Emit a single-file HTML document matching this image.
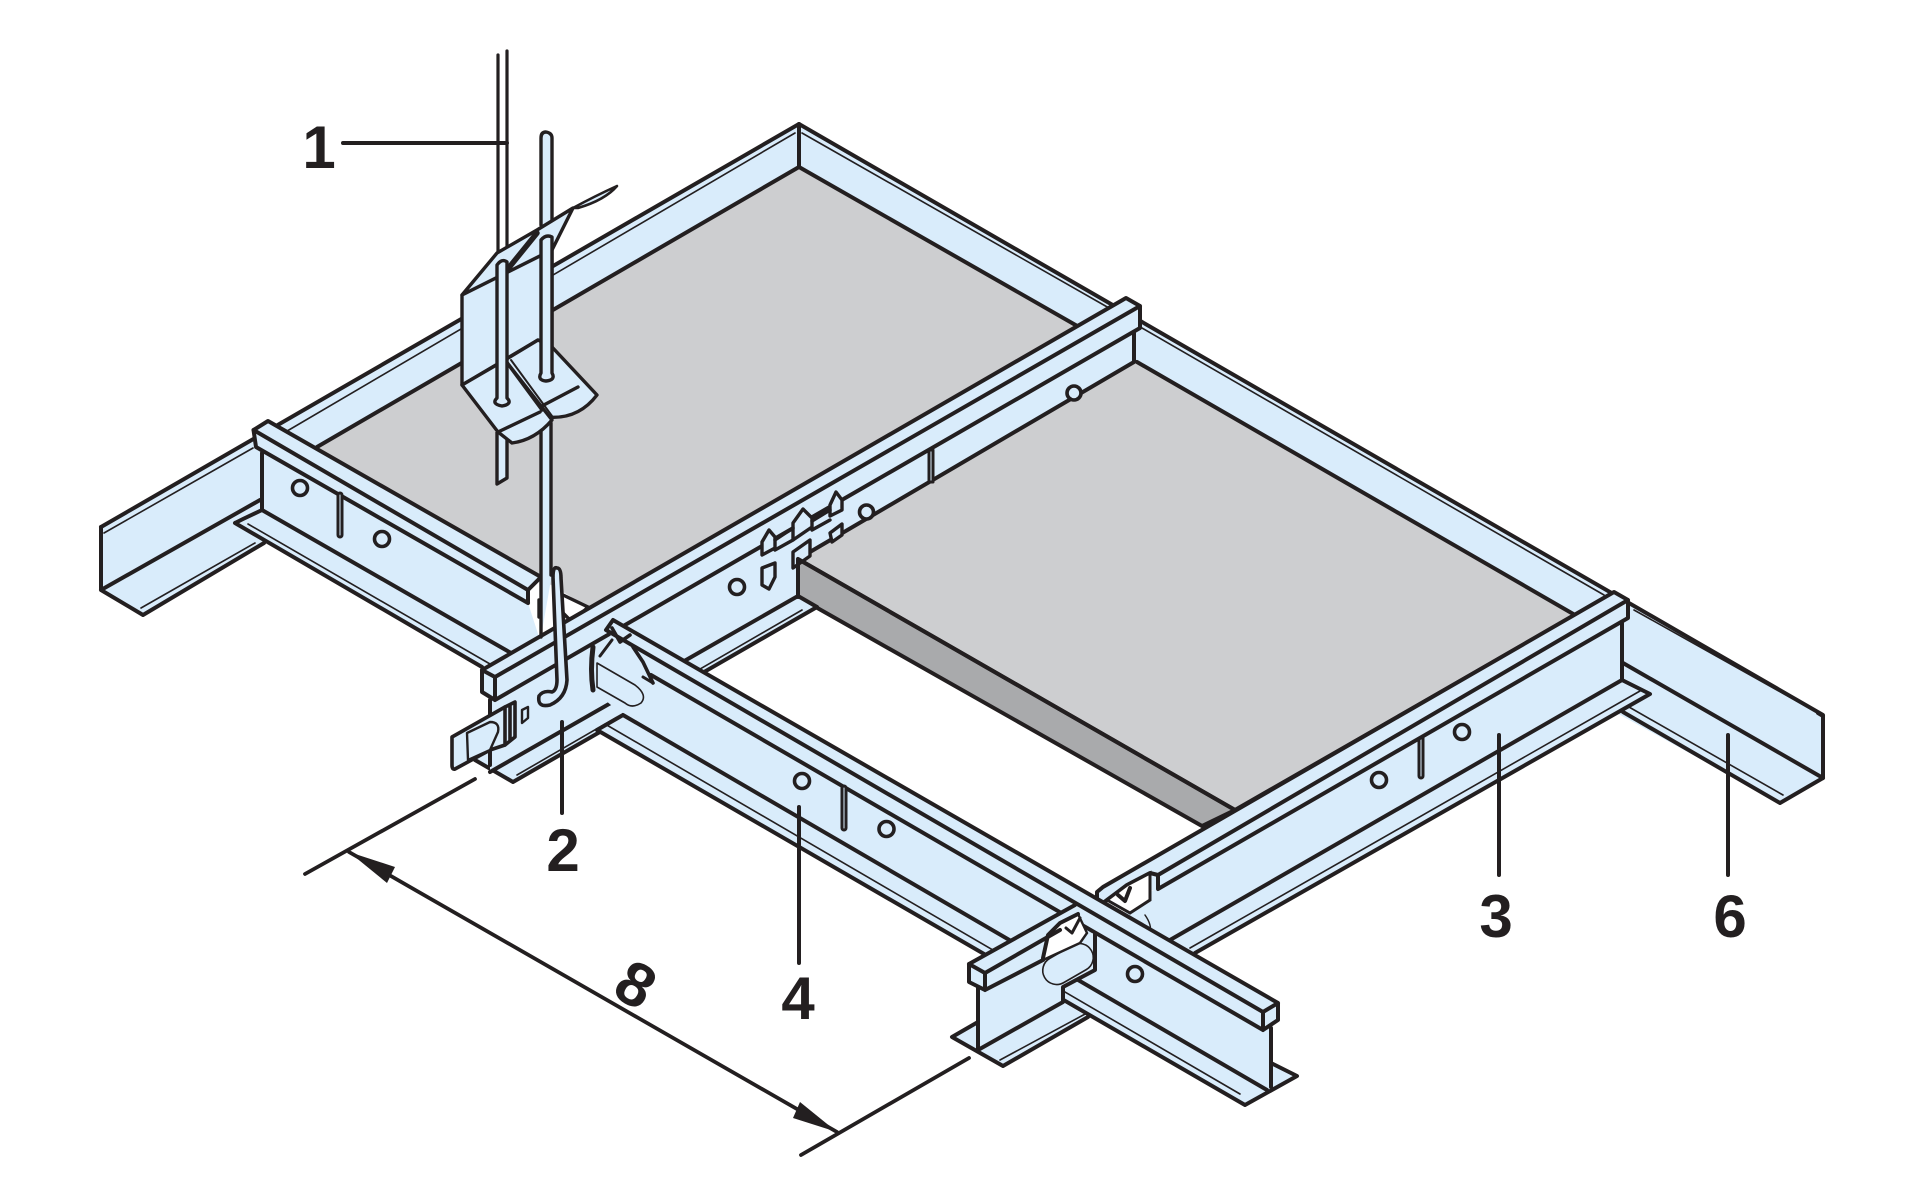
<!DOCTYPE html>
<html><head><meta charset="utf-8"><title>Ceiling grid</title>
<style>
html,body{margin:0;padding:0;background:#fff}
svg{display:block}
.f{fill:#d9ecfb;stroke:none}
.w{fill:#fff;stroke:#231f20}
.b{fill:#d9ecfb;stroke:#231f20;stroke-linejoin:round}
.l{fill:none;stroke:#231f20;stroke-linecap:round;stroke-linejoin:round}
.t{fill:none;stroke:#231f20;stroke-linecap:round}
.n{font-family:"Liberation Sans",sans-serif;font-weight:700;font-size:60px;fill:#231f20;text-anchor:middle}
</style></head><body>
<svg width="1920" height="1204" viewBox="0 0 1920 1204" xmlns="http://www.w3.org/2000/svg">
<rect width="1920" height="1204" fill="#fff"/>

<!-- perimeter -->
<polygon class="f" points="799,124 1823,715 1823,778 1780,803 1575,690 1575,615 799,167 317,447 264,543 143,615 101,590 101,527"/>
<polygon points="799,167 1079,327 590,608 317,447" fill="#cdced0"/>
<polygon points="1137,362 1575,615 1235,810 798,559" fill="#cdced0"/>
<polygon points="798,559 1235,810 1202,826 798,597" fill="#a9aaac"/>
<g stroke-width="4">
<path class="l" d="M101,527 L799,124 L1823,715 V778 L1780,803 L1623,712"/>
<path class="l" d="M799,124 V167 L1079,327 M799,167 L317,447 M1137,362 L1575,615"/>
<path class="l" d="M101,527 V590 L143,615 L264,543 M101,590 L260,500 M1623,663 L1823,778"/>
<path class="l" d="M1818,713 L1823,716 M798,559 L1235,810 L1575,615 M798,559 L798,597 L1202,826 L1235,810"/>
</g>
<path class="t" stroke-width="1.6" d="M104,533 L253,448 M141,608 L255,543 M265,444 L795,133 M802,133 L1109,308 M1142,328 L1604,595 M1634,610 L1818,713 M1629,707 L1783,795"/>

<!-- left tee -->
<polygon class="f" points="235,523 262,510 511,653 482,667"/>
<path class="l" stroke-width="4" d="M235,523 L243,519 L262,510 M235,523 L482,667"/>
<path class="t" stroke-width="1.6" d="M248,524 L490,664"/>
<polygon class="f" points="262,453 528,603 540,640 511,653 262,510"/>
<polygon class="f" points="253.5,430 268,421 541,577 528,590 528,613 256,447"/>
<path class="l" stroke-width="4" d="M253.5,430 L268,421 L541,577 L528,590 M253.5,430 L528,590 V603 M253.5,430 L256,447 L528,603 M262,453 V510 L511,653"/>
<circle class="b" stroke-width="3.6" cx="300" cy="488" r="7.5"/><circle class="b" stroke-width="3.6" cx="382" cy="539" r="7.5"/>
<rect class="b" stroke-width="3" x="338" y="493" width="4" height="44" rx="2"/>
<path class="l" stroke-width="3.4" d="M539,600 V617 M563,595 L588,607 L575,620 M560,610 L572,622"/>

<!-- main tee 3 -->
<polygon class="f" points="1195,953 1170,940 1622,680 1650,694"/>
<path class="l" stroke-width="4" d="M1195,953 L1650,694 L1622,680"/>
<path class="t" stroke-width="1.6" d="M1190,948 L1640,691"/>
<polygon class="f" points="1125,905 1158,888 1622,623 1622,680 1170,940 1125,915"/>
<path class="l" stroke-width="4" d="M1622,623 V680 L1170,940"/>
<circle class="b" stroke-width="3.6" cx="1462" cy="732" r="7.5"/><circle class="b" stroke-width="3.6" cx="1379" cy="780" r="7.5"/>
<rect class="b" stroke-width="3" x="1419" y="734" width="4" height="44" rx="2"/>
<polygon class="f" points="1097,892 1103,887 1614,592 1628,600 1628,618 1158,889 1103,903 1097,900"/>
<path class="l" stroke-width="4" d="M1103,887 L1614,592 L1628,600 V618 L1158,889 V875 L1628,600 M1158,875 L1150,873 L1127,885 L1107,900 L1103,903 L1097,900 V892 L1103,887"/>
<path class="w" style="stroke-width:3" d="M1107,900 L1127,885 L1150,873 L1150,900 L1130,913 Z"/>
<path class="l" stroke-width="4" d="M1118,895 L1125,901 L1130,888"/>
<path class="t" stroke-width="1.5" d="M1145,915 Q1152,925 1150,932"/>

<!-- main tee 2 -->
<polygon class="f" points="475,760 490,750 798,596 817,607 513,782"/>
<path class="l" stroke-width="4" d="M475,760 L513,782 L817,607 M798,596 L817,607"/>
<path class="t" stroke-width="1.6" d="M517,775 L802,610"/>
<polygon class="f" points="495,700 1134,331 1134,362 798,559 798,596 490,772 490,700"/>
<path class="l" stroke-width="4" d="M490,700 V765 M1134,331 V362 L798,559 V596 L490,772"/>
<polygon class="f" points="482,670 1126,298 1140,306 1140,328 495,700 482,692"/>
<path class="l" stroke-width="4" d="M482,670 L1126,298 L1140,306 V328 L495,700 V677 L1140,306 M482,670 L495,677 M482,670 V692 L495,700"/>
<circle class="b" stroke-width="3.6" cx="1074" cy="393" r="7"/><circle class="b" stroke-width="3.6" cx="866.5" cy="512" r="7"/><circle class="b" stroke-width="3.6" cx="737" cy="587" r="7.5"/>
<rect class="b" stroke-width="3" x="929" y="450" width="4" height="32"/>
<g stroke-width="3.4">
<path class="b" d="M762,555 V542 L769,530 L775,537 V548 Z"/>
<path class="b" d="M793,540 V523 L803,509 L812,518 V527 Z"/>
<path class="b" d="M830,516 V505 L836,492 L842,500 V510 Z"/>
<path class="b" d="M762,568 V585 L769,589 L775,577 V563 Z"/>
<path class="b" d="M793,568 V552 L810,540 V556 Z"/>
<path class="b" d="M830,533 L842,524 V535 L832,542 Z"/>
<path class="l" d="M775,540 L793,528 M812,521 L830,510 M775,550 L793,540 M812,530 L830,520"/>
</g>
<path class="l" stroke-width="4" d="M798,559 L1235,810 M798,559 V597"/>

<!-- cross tee 4 -->
<polygon class="f" points="597,730 623,712 1297,1076 1271,1063 1245,1105"/>
<polygon class="f" points="1271,1063 1297,1076 1245,1105 1200,1080"/>
<path class="l" stroke-width="4" d="M597,730 L1245,1105 L1297,1076 L1271,1063 M597,730 L623,715"/>
<path class="t" stroke-width="1.6" d="M605,724 L1240,1094"/>
<polygon class="f" points="593,650 640,668 1263,1030 1271,1028 1271,1087 1267,1090 623,715 593,690"/>
<path class="l" stroke-width="4" d="M623,715 L1267,1090 M1271,1028 V1087"/>
<polygon class="f" points="613,620 1278,1003 1278,1020 1263,1030 640,668 606,630"/>
<path class="l" stroke-width="4" d="M606,630 L613,620 L1278,1003 V1020 L1263,1030 V1012 L606,630 M651,675 L1263,1030 M1263,1012 L1278,1003"/>
<circle class="b" stroke-width="3.6" cx="802" cy="781" r="7.5"/><circle class="b" stroke-width="3.6" cx="886.5" cy="829" r="7.5"/><circle class="b" stroke-width="3.6" cx="1135" cy="974" r="7.5"/>
<rect class="b" stroke-width="3" x="842" y="786" width="4" height="44" rx="2"/>
<path class="b" stroke-width="1.6" d="M597,663 L635,685 Q648,695 641,703 Q632,709 625,703 L597,687 Z"/>
<path class="l" stroke-width="5" d="M593,647 Q590,670 593,690"/>
<path class="l" stroke-width="3.6" d="M612,628 L620,642 L630,635 M633,647 L643,662 L653,683"/>
<path class="l" stroke-width="3" d="M643,677 L653,683 M600,656 L612,640"/>

<!-- near stub -->
<polygon class="f" points="952,1037 978,1022 978,1050 1063,1002 1088,1017 1003,1066"/>
<path class="l" stroke-width="4" d="M978,1022 L952,1037 L1003,1066 L1088,1017"/>
<path class="t" stroke-width="1.6" d="M1000,1060 L1087,1013"/>
<polygon class="f" points="978,985 985,990 1080,935 1095,933 1095,970 1063,987 1063,1002 978,1050"/>
<path class="l" stroke-width="4" d="M978,985 V1050 L1063,1002 V987 L1095,970 V933"/>
<rect class="b" stroke-width="1.6" x="1041" y="950" width="54" height="28" rx="14" transform="rotate(-30 1068 964)"/>
<polygon class="f" points="969,964 1075,905 1082,910 1042,960 985,990 969,982"/>
<path class="w" style="stroke-width:2.4" d="M1043,960 L1048,935 L1060,923 L1078,914 L1087,933 L1080,943 Z"/>
<path class="l" stroke-width="4" d="M969,964 L1075,905 M1043,960 L985,990 V973 L1060,930 M969,964 L985,973 M969,964 V982 L985,990"/>
<path class="l" stroke-width="4" d="M1043,958 L1048,935 L1060,923 L1078,914"/>
<path class="l" stroke-width="3" d="M1066,928 L1072,933 L1080,918"/>

<!-- hanger wires back -->
<path class="l" stroke-width="3.2" d="M498,55 V253 M507,51 V253"/>
<path class="f" d="M541,225 V138 Q541,132 546,132 Q552,133 552,138 V225 Z"/>
<path class="l" stroke-width="3.4" d="M541,225 V138 Q541,132 546,132 Q552,133 552,138 V225"/>
<path class="f" d="M541,423 H552 V574 L541,637 Z"/>
<path class="l" stroke-width="3.4" d="M541,423 V637 M551,423 V575"/>
<path class="b" stroke-width="3.4" d="M497,432 V484 L507,478 V436"/>

<!-- clip -->
<path class="b" stroke-width="3.4" d="M462,295 L497,253 L537,230 L573,208 L552,250 Z"/>
<path class="b" stroke-width="2.6" d="M573,208 Q595,196 617,186 Q605,200 578,208 Z"/>
<path class="b" stroke-width="3.4" d="M462,295 L552,250 V347 L538,340 L462,385 Z"/>
<path class="b" stroke-width="3.4" d="M505,360 L538,340 L552,347 L597,395 Q578,420 547,417 L540,407 Z"/>
<path class="b" stroke-width="3.4" d="M462,385 L505,360 L552,420 Q535,440 512,443 L498,432 Z"/>
<path class="l" stroke-width="3.4" d="M498,432 L540,412 M540,407 L578,387 M505,360 L542,410"/>
<path class="t" stroke-width="2" d="M511,360 L552,416"/>
<path class="l" stroke-width="5.5" d="M507,270 L537,233"/>
<path class="b" stroke-width="3.4" d="M497,398 V265 Q502,258 507,262 V398 Q513,404 502,406 Q491,404 497,398 Z"/>
<path class="b" stroke-width="3.4" d="M541,373 V240 Q546,234 552,237 V373 Q556,380 546,381 Q537,380 541,373 Z"/>

<!-- hook -->
<path class="b" stroke-width="3.6" d="M553,577 Q553,566 557,568 Q561,568 561,578 L567,680 Q566,698 550,705 Q537,708 539,696 Q543,690 552,692 Q557,690 557,680 Z"/>

<!-- tab -->
<path class="b" stroke-width="3.6" d="M452,737 L505,707 L505,745 L490,750 L455,769 Q452,770 452,765 Z"/>
<path class="b" stroke-width="2.4" d="M467,733 L490,722 Q500,722 498,732 L490,750 L468,760 Z"/>
<path class="l" stroke-width="3.6" d="M505,707 L515,702 V737 L505,745 M510,705 V740"/>
<path class="b" stroke-width="2.4" d="M522,710 L528,707 V718 L522,723 Z"/>

<!-- leaders and dimension -->
<path class="l" stroke-width="4" d="M343,143 H507 M562,722 V813 M799,807 V963 M1499,735 V875 M1728,735 V875"/>
<path class="l" stroke-width="3.8" d="M305,874 L475,779 M801,1155 L969,1058"/>
<path class="l" stroke-width="3.8" d="M349,852 L837,1132"/>
<polygon points="349,852 395,867 387,883" fill="#231f20"/>
<polygon points="837,1132 793,1118 800,1102" fill="#231f20"/>

<!-- labels -->
<text class="n" x="319" y="168">1</text>
<text class="n" x="563" y="871">2</text>
<text class="n" x="1496" y="937">3</text>
<text class="n" x="798" y="1019">4</text>
<text class="n" x="1730" y="937">6</text>
<text class="n" x="0" y="0" transform="translate(625,1003) rotate(30)" style="font-size:62px">8</text>
</svg>
</body></html>
